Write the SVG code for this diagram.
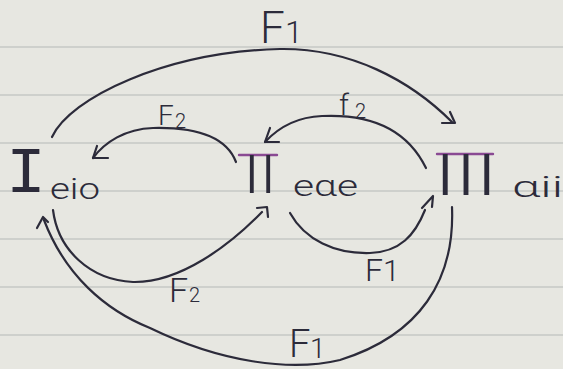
<svg xmlns="http://www.w3.org/2000/svg" width="563" height="369" viewBox="0 0 563 369">
<style>
.rule{stroke:#c6c8c5;stroke-width:1.6}
.ink{fill:none;stroke:#2c2b3a;stroke-width:2.2;stroke-linecap:round;stroke-linejoin:round}
.num{font-family:"Noto Sans CJK JP","DejaVu Sans",sans-serif;font-weight:300;fill:#2c2b3a}
.mono{font-family:"Liberation Mono","DejaVu Sans Mono",monospace;fill:#2c2b3a}
.word{font-family:Roboto,"DejaVu Sans",sans-serif;font-weight:300;fill:#2c2b3a}
.lbl{font-family:Roboto,"DejaVu Sans",sans-serif;font-weight:300;fill:#2c2b3a}
.bar{stroke:#8a4a93;stroke-width:2.4;stroke-linecap:round}
</style>
<rect width="563" height="369" fill="#e7e7e1"/>
<g id="paper">
<line class="rule" x1="0" y1="47" x2="563" y2="47"/>
<line class="rule" x1="0" y1="95" x2="563" y2="95"/>
<line class="rule" x1="0" y1="143" x2="563" y2="143"/>
<line class="rule" x1="0" y1="191" x2="563" y2="191"/>
<line class="rule" x1="0" y1="239" x2="563" y2="239"/>
<line class="rule" x1="0" y1="287" x2="563" y2="287"/>
<line class="rule" x1="0" y1="335" x2="563" y2="335"/>
</g>
<g id="node-I">
<text class="mono" x="6" y="192" font-size="64" textLength="40" lengthAdjust="spacingAndGlyphs">I</text>
<text class="word" x="50" y="199" font-size="30" textLength="50" lengthAdjust="spacingAndGlyphs">eio</text>
</g>
<g id="node-II">
<line class="bar" x1="239" y1="155" x2="277" y2="155"/>
<text class="num" x="230" y="193" font-size="52" textLength="60" lengthAdjust="spacingAndGlyphs">Ⅱ</text>
<text class="word" x="293" y="196" font-size="30" textLength="65" lengthAdjust="spacingAndGlyphs">eαe</text>
</g>
<g id="node-III">
<line class="bar" x1="437" y1="154" x2="493" y2="154"/>
<text class="num" x="428" y="195" font-size="56" textLength="76" lengthAdjust="spacingAndGlyphs">Ⅲ</text>
<text class="word" x="512" y="197" font-size="30" textLength="51" lengthAdjust="spacingAndGlyphs">αii</text>
</g>
<g id="connectors">
<path class="ink" d="M52 137 C70 98 165 52 280 49 C350 48 410 80 452 122"/>
<path class="ink" d="M442 123 L455 123 L450 112"/>
<path class="ink" d="M236 162 C226 136 196 127 153 128 C125 129 105 142 93 158"/>
<path class="ink" d="M108 158 L93 158 L97 146"/>
<path class="ink" d="M426 168 C405 125 365 114 322 116 C296 117 278 128 265 142"/>
<path class="ink" d="M279 142 L265 142 L270 128"/>
<path class="ink" d="M53 210 C58 250 90 280 133 282 C180 283 230 245 262 212"/>
<path class="ink" d="M257 208 L267 207 L268 217"/>
<path class="ink" d="M290 213 C305 240 335 254 370 253 C400 252 415 235 425 210"/>
<path class="ink" d="M422 208 L433 196 L432 207"/>
<path class="ink" d="M452 207 C455 280 420 335 340 360 C290 372 220 362 150 328 C105 310 65 275 44 220"/>
<path class="ink" d="M37 228 L43 217 L48 222"/>
</g>
<g id="labels">
<text class="lbl" x="260" y="43" font-size="44">F<tspan x="285" font-size="32">1</tspan></text>
<text class="lbl" x="158" y="125" font-size="28">F<tspan x="175" y="128" font-size="20">2</tspan></text>
<text class="lbl" x="339" y="115" font-size="30">f<tspan x="355" y="118" font-size="20">2</tspan></text>
<text class="lbl" x="365" y="281" font-size="32">F<tspan x="383" font-size="30">1</tspan></text>
<text class="lbl" x="169" y="302" font-size="34">F<tspan x="189" font-size="20">2</tspan></text>
<text class="lbl" x="289" y="357" font-size="38">F<tspan x="310" y="358" font-size="28">1</tspan></text>
</g>
</svg>
